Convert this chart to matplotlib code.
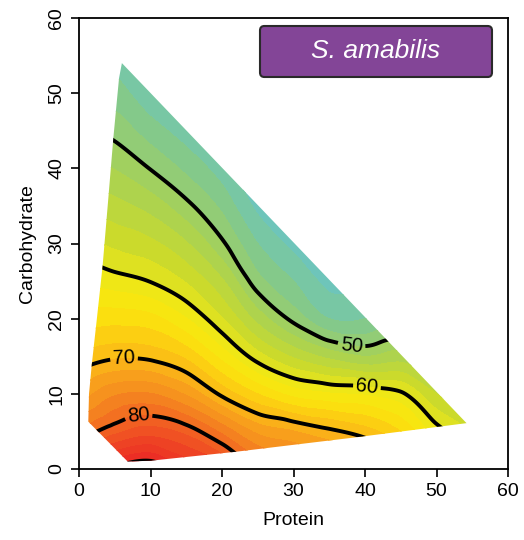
import numpy as np
import matplotlib
matplotlib.use("Agg")
import matplotlib.pyplot as plt
import matplotlib.tri as mtri
from matplotlib.colors import LinearSegmentedColormap
from matplotlib.patches import Polygon, FancyBboxPatch

plt.rcParams['font.family'] = ['Liberation Sans', 'DejaVu Sans']

# ---- data ----
protein_grid = [0, 5, 10, 15, 20, 25, 30, 35, 40, 45, 50, 55]
carb_grid = [0, 5, 10, 15, 20, 25, 30, 35, 40, 45, 50, 55]
# response surface, one list per protein value (along carbohydrate)
surface_p0 = [86, 78.3, 72.7, 68.3, 64.8, 61.7, 58.9, 56.0, 53.2, 50.5, 48.0, 46.0]
surface_p5 = [90.5, 81.4, 75.7, 69.6, 65.2, 60.9, 57.5, 54.7, 51.9, 49.3, 47.0, 45.0]
surface_p10 = [92, 83.0, 76.1, 69.4, 64.7, 59.9, 56.5, 53.2, 49.9, 47.0, 44.5, 42.5]
surface_p15 = [88, 81.3, 73.7, 67.5, 62.1, 57.8, 54.2, 50.6, 47.5, 45.0, 43.0, 41.0]
surface_p20 = [85, 77.5, 69.5, 63.3, 58.2, 54.3, 50.4, 47.5, 45.0, 43.0, 41.5, 40.0]
surface_p25 = [80, 73.5, 66.0, 58.9, 53.3, 48.8, 46.0, 43.5, 42.0, 41.0, 40.0, 39.0]
surface_p30 = [78, 72.1, 63.3, 55.7, 49.4, 46.0, 43.5, 42.0, 41.0, 40.0, 39.0, 38.0]
surface_p35 = [76, 70.5, 62.2, 53.4, 46.0, 43.5, 42.5, 42.0, 41.0, 40.0, 39.0, 38.0]
surface_p40 = [75, 68.9, 61.7, 52.0, 46.0, 44.5, 43.0, 42.0, 41.0, 40.0, 39.0, 38.0]
surface_p45 = [72, 66.0, 60.4, 53.0, 48.0, 45.5, 44.0, 43.0, 42.0, 41.0, 40.0, 39.0]
surface_p50 = [66, 61.0, 56.0, 52.0, 48.0, 46.0, 44.0, 43.0, 42.0, 41.0, 40.0, 39.0]
surface_p55 = [62, 58.0, 54.0, 51.0, 48.0, 46.0, 44.0, 43.0, 42.0, 41.0, 40.0, 39.0]

# outline of the sampled region (protein, carbohydrate)
region_protein = [1.3, 1.4, 1.8, 2.5, 3.3, 4.1, 4.8, 5.6, 6.0, 6.4, 54.2, 38.6, 22.0, 10.0, 6.8]
region_carb = [6.3, 10.0, 14.0, 20.0, 27.0, 36.0, 44.0, 52.0, 54.0, 53.6, 6.1, 4.2, 2.3, 1.1, 1.0]

contour_levels = [50, 60, 70, 80, 90]
labelled_levels = [50, 60, 70, 80]
label_protein = [38.2, 40.3, 6.3, 8.3]
label_carb = [17.0, 11.2, 14.6, 7.4]

title_text = "S. amabilis"

# ---- build surface ----
Z = np.array([surface_p0, surface_p5, surface_p10, surface_p15, surface_p20, surface_p25,
              surface_p30, surface_p35, surface_p40, surface_p45, surface_p50, surface_p55]).T
PX, CY = np.meshgrid(protein_grid, carb_grid)
ny, nx = Z.shape
tris = []
for j in range(ny - 1):
    for i in range(nx - 1):
        a = j * nx + i          # bottom-left
        b = a + 1               # bottom-right
        c = a + nx              # top-left
        d = c + 1               # top-right
        tris.append([a, b, c])
        tris.append([b, d, c])
triang = mtri.Triangulation(PX.ravel().astype(float), CY.ravel().astype(float),
                            triangles=np.array(tris))
interp = mtri.CubicTriInterpolator(triang, Z.ravel(), kind="geom")
refiner = mtri.UniformTriRefiner(triang)
tri_ref, z_ref = refiner.refine_field(Z.ravel(), triinterpolator=interp, subdiv=5)

anchors = [(40, "#6AC4C4"), (43, "#6EC5BA"), (47, "#84C98A"), (52, "#A8D254"),
           (57, "#CBDA2C"), (61, "#EFE716"), (64, "#FBE60E"), (68, "#FCC913"),
           (72, "#F9A71B"), (76, "#F58A1F"), (80, "#F26722"), (85, "#EE4324"),
           (92, "#E91F25"), (94, "#E81C24")]
vmin, vmax = 40, 94
cmap = LinearSegmentedColormap.from_list(
    "nut", [((v - vmin) / (vmax - vmin), c) for v, c in anchors])

fig = plt.figure(figsize=(5.24, 5.40), dpi=100)
ax = fig.add_axes([79 / 524, 1 - 469 / 540, 429 / 524, 451 / 540])

poly = Polygon(np.column_stack([region_protein, region_carb]), closed=True,
               transform=ax.transData, facecolor="none", edgecolor="none")

fill_levels = np.arange(36, 98, 2)
cf = ax.tricontourf(tri_ref, z_ref, levels=fill_levels, cmap=cmap, vmin=vmin, vmax=vmax,
                    extend="both")
cf.set_clip_path(poly)

cl = ax.tricontour(tri_ref, z_ref, levels=contour_levels, colors="black", linewidths=2.8)
cl.set_clip_path(poly)
ax.clabel(cl, levels=labelled_levels, inline=True, fmt="%d", fontsize=14.5,
          manual=list(zip(label_protein, label_carb)), inline_spacing=4)

ax.set_xlim(0, 60)
ax.set_ylim(0, 60)
ax.set_xticks([0, 10, 20, 30, 40, 50, 60])
ax.set_yticks([0, 10, 20, 30, 40, 50, 60])
ax.tick_params(direction="out", length=6, width=1.2, labelsize=14, pad=4)
for lab in ax.get_yticklabels():
    lab.set_rotation(90)
    lab.set_va("center")
for s in ax.spines.values():
    s.set_linewidth(1.3)
ax.set_xlabel("Protein", fontsize=14, labelpad=9)
ax.set_ylabel("Carbohydrate", fontsize=14, labelpad=9)

bx0, bx1 = (260 - 79) / 429, (492 - 79) / 429
by0, by1 = (469 - 77) / 451, (469 - 26) / 451
box = FancyBboxPatch((bx0, by0), bx1 - bx0, by1 - by0,
                     boxstyle="round,pad=0,rounding_size=0.01",
                     transform=ax.transAxes, facecolor="#834597", edgecolor="#2A2A2A",
                     linewidth=1.5, zorder=5)
ax.add_patch(box)
ax.text((bx0 + bx1) / 2, (by0 + by1) / 2, title_text, transform=ax.transAxes,
        ha="center", va="center", color="white", fontsize=19, style="italic", zorder=6)

fig.savefig("out.png", dpi=100)
